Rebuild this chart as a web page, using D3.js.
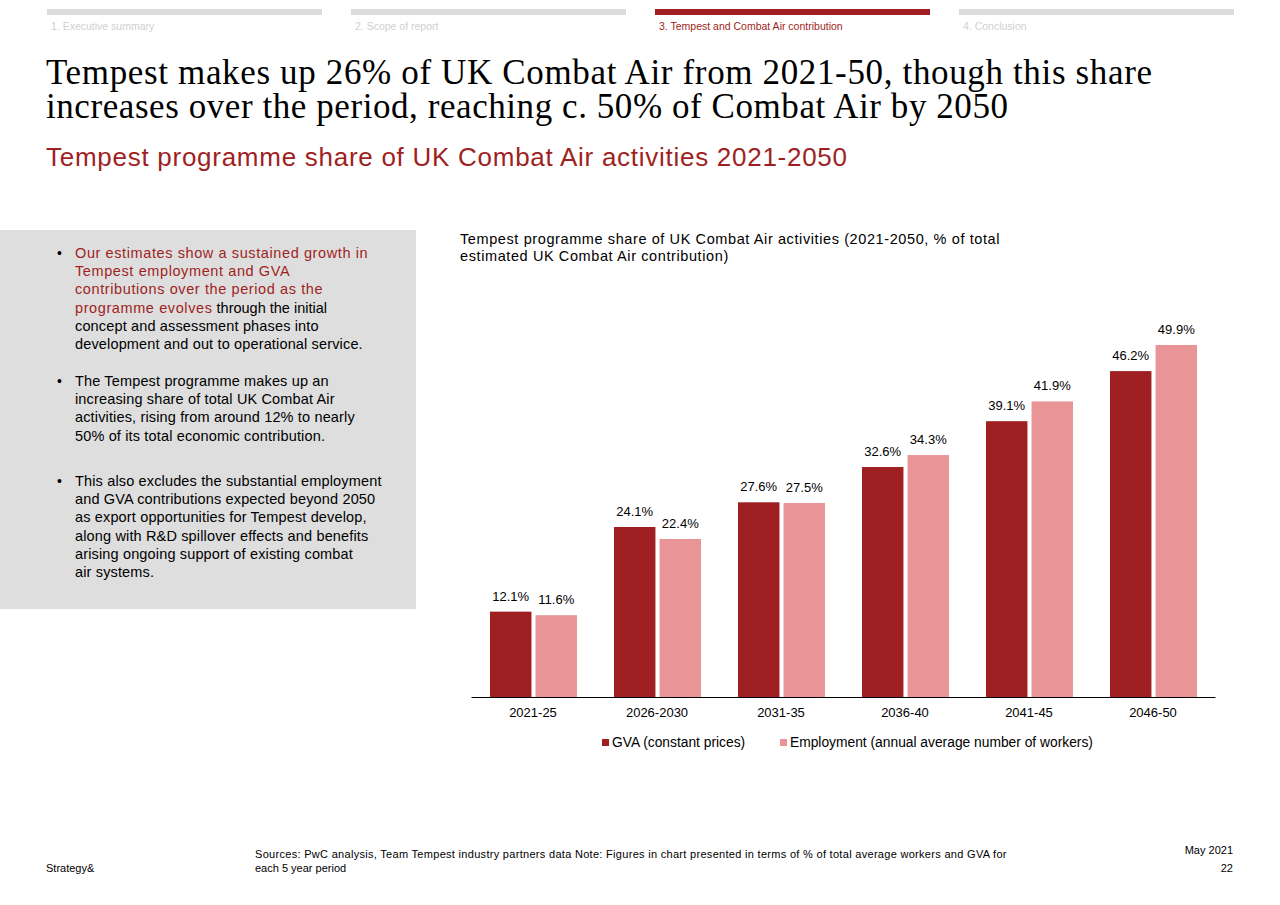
<!DOCTYPE html>
<html><head><meta charset="utf-8">
<script src="https://cdn.jsdelivr.net/npm/d3@7"></script>
<style>
body{margin:0;background:#fff;}
svg text{font-family:"Liberation Sans",Arial,sans-serif;}
</style></head>
<body><div id="slide"></div>
<script>
var periods = ["2021-25","2026-2030","2031-35","2036-40","2041-45","2046-50"];
var gva = [12.1,24.1,27.6,32.6,39.1,46.2];
var employment = [11.6,22.4,27.5,34.3,41.9,49.9];
var seriesNames = ["GVA (constant prices)","Employment (annual average number of workers)"];
var navItems = ["1. Executive summary","2. Scope of report","3. Tempest and Combat Air contribution","4. Conclusion"];

var width = 1280, height = 905;
var dark = "#a01f22", light = "#e99597";

var svg = d3.select("#slide").append("svg").attr("width", width).attr("height", height);

// nav bar
navItems.forEach(function(t, i) {
	var x = 47 + i * 304;
	svg.append("rect").attr("x", x).attr("y", 9).attr("width", 275).attr("height", 6)
		.attr("fill", i == 2 ? dark : "#dcdcdc");
	svg.append("text").attr("x", x + 4).attr("y", 30).attr("font-size", 10.5)
		.attr("fill", i == 2 ? dark : "#d0d0d0").text(t);
});

svg.append("text").attr("x", 46).attr("y", 84).attr("font-size", 35)
	.attr("textLength", 1106).attr("lengthAdjust", "spacing")
	.style("font-family", "'Liberation Serif',Georgia,serif")
	.text("Tempest makes up 26% of UK Combat Air from 2021-50, though this share");
svg.append("text").attr("x", 46).attr("y", 118).attr("font-size", 35)
	.attr("textLength", 962).attr("lengthAdjust", "spacing")
	.style("font-family", "'Liberation Serif',Georgia,serif")
	.text("increases over the period, reaching c. 50% of Combat Air by 2050");
svg.append("text").attr("x", 46).attr("y", 166).attr("font-size", 26).attr("fill", dark)
	.attr("textLength", 801).attr("lengthAdjust", "spacing")
	.text("Tempest programme share of UK Combat Air activities 2021-2050");

// left grey panel
svg.append("rect").attr("x", 0).attr("y", 230).attr("width", 416).attr("height", 379).attr("fill", "#dedede");
var bullets = [
	{y: 258, lines: [["Our estimates show a sustained growth in", 1], ["Tempest employment and GVA", 1], ["contributions over the period as the", 1], [["programme evolves", " through the initial"], 2], ["concept and assessment phases into", 0], ["development and out to operational service.", 0]]},
	{y: 386, lines: [["The Tempest programme makes up an", 0], ["increasing share of total UK Combat Air", 0], ["activities, rising from around 12% to nearly", 0], ["50% of its total economic contribution.", 0]]},
	{y: 486, lines: [["This also excludes the substantial employment", 0], ["and GVA contributions expected beyond 2050", 0], ["as export opportunities for Tempest develop,", 0], ["along with R&D spillover effects and benefits", 0], ["arising ongoing support of existing combat", 0], ["air systems.", 0]]}
];
bullets.forEach(function(b) {
	svg.append("text").attr("x", 57).attr("y", b.y).attr("font-size", 14).text("•");
	b.lines.forEach(function(l, j) {
		var t = svg.append("text").attr("x", 75).attr("y", b.y + j * 18.2).attr("font-size", 14.5);
		if (l[1] == 2) {
			t.append("tspan").attr("fill", dark).style("letter-spacing", "0.6px").text(l[0][0]);
			t.append("tspan").text(l[0][1]);
		} else {
			t.attr("fill", l[1] ? dark : "#000").style("letter-spacing", l[1] ? "0.6px" : "0.15px").text(l[0]);
		}
	});
});

// chart
svg.append("text").attr("x", 460).attr("y", 244).attr("font-size", 14.5).style("letter-spacing", "0.6px")
	.text("Tempest programme share of UK Combat Air activities (2021-2050, % of total");
svg.append("text").attr("x", 460).attr("y", 261).attr("font-size", 14.5).style("letter-spacing", "0.6px")
	.text("estimated UK Combat Air contribution)");

var x = d3.scaleBand().domain(periods).range([471, 1215]);
var y = d3.scaleLinear().domain([0, 49.9]).range([697, 345]);
var sub = d3.scaleBand().domain([0, 1]).range([x.bandwidth() / 2 - 43, x.bandwidth() / 2 + 44]).paddingInner(0.09);

[gva, employment].forEach(function(vals, s) {
	var g = svg.append("g");
	g.selectAll("rect").data(vals).enter().append("rect")
		.attr("x", function(d, i) { return x(periods[i]) + sub(s); })
		.attr("y", function(d) { return y(d); })
		.attr("width", sub.bandwidth())
		.attr("height", function(d) { return y(0) - y(d); })
		.attr("fill", s ? light : dark);
	g.selectAll("text").data(vals).enter().append("text")
		.attr("x", function(d, i) { return x(periods[i]) + sub(s) + sub.bandwidth() / 2; })
		.attr("y", function(d) { return y(d) - 11; })
		.attr("text-anchor", "middle").attr("font-size", 13)
		.text(function(d) { return d.toFixed(1) + "%"; });
});

var axis = svg.append("g").attr("transform", "translate(0,697)")
	.call(d3.axisBottom(x).tickSize(0).tickPadding(11));
axis.select(".domain").attr("stroke", "#000");
axis.selectAll("text").attr("font-size", 13).style("font-family", "'Liberation Sans',Arial,sans-serif");

// legend
[[602, 0], [780, 1]].forEach(function(p) {
	svg.append("rect").attr("x", p[0]).attr("y", 739).attr("width", 7).attr("height", 7).attr("fill", p[1] ? light : dark);
	svg.append("text").attr("x", p[0] + 10).attr("y", 747).attr("font-size", 14).attr("font-size", 13.8).text(seriesNames[p[1]]);
});

// footer
svg.append("text").attr("x", 46).attr("y", 872).attr("font-size", 11).text("Strategy&");
svg.append("text").attr("x", 255).attr("y", 858).attr("font-size", 11).style("letter-spacing", "0.3px")
	.text("Sources: PwC analysis, Team Tempest industry partners data Note: Figures in chart presented in terms of % of total average workers and GVA for");
svg.append("text").attr("x", 255).attr("y", 872).attr("font-size", 11).text("each 5 year period");
svg.append("text").attr("x", 1233).attr("y", 854).attr("font-size", 11).attr("text-anchor", "end").text("May 2021");
svg.append("text").attr("x", 1233).attr("y", 872).attr("font-size", 11).attr("text-anchor", "end").text("22");
</script></body></html>
